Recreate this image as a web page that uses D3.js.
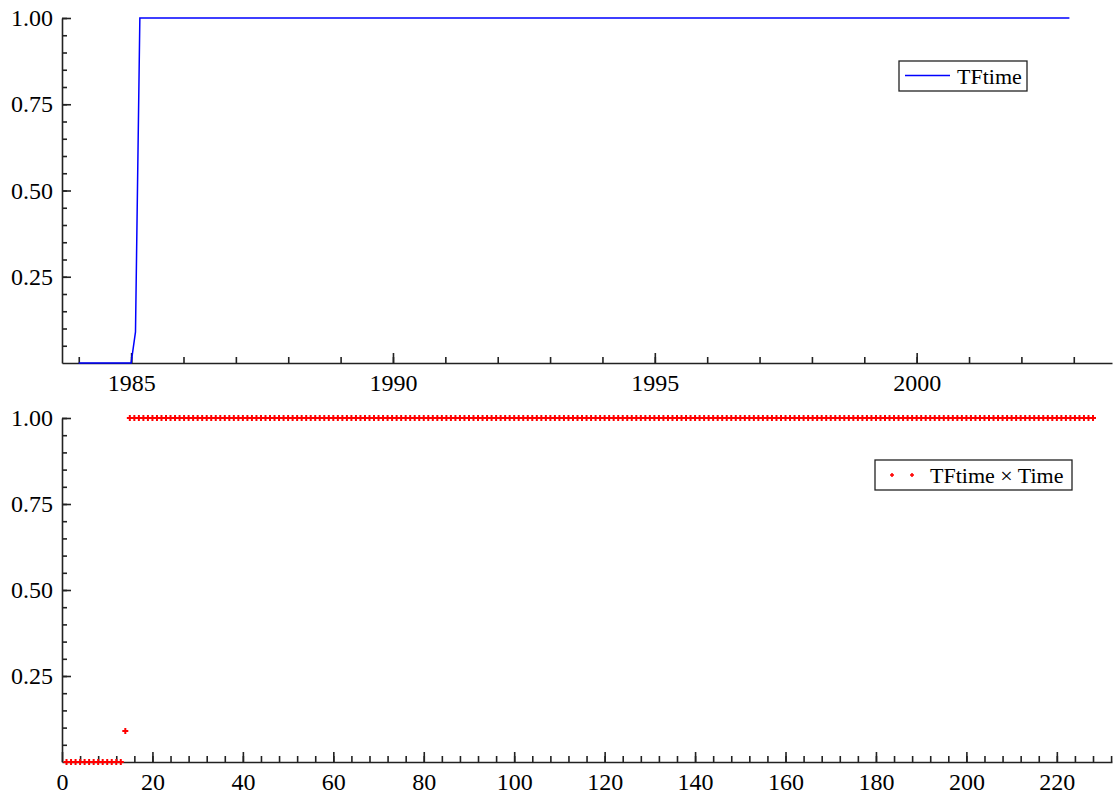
<!DOCTYPE html>
<html>
<head>
<meta charset="utf-8">
<script src="https://cdn.jsdelivr.net/npm/d3@7"></script>
<style>
  html, body { margin: 0; padding: 0; background: #fff; }
  svg { display: block; }
</style>
</head>
<body>
<div id="chart"></div>
<script>
// Monthly series, 1984M1 .. 2002M12 (one row per year)
const startYear = 1984;
const tfTime = [
  0, 0, 0, 0, 0, 0, 0, 0, 0, 0, 0, 0,          // 1984
  0, 0.09, 1, 1, 1, 1, 1, 1, 1, 1, 1, 1,       // 1985
  1, 1, 1, 1, 1, 1, 1, 1, 1, 1, 1, 1,          // 1986
  1, 1, 1, 1, 1, 1, 1, 1, 1, 1, 1, 1,          // 1987
  1, 1, 1, 1, 1, 1, 1, 1, 1, 1, 1, 1,          // 1988
  1, 1, 1, 1, 1, 1, 1, 1, 1, 1, 1, 1,          // 1989
  1, 1, 1, 1, 1, 1, 1, 1, 1, 1, 1, 1,          // 1990
  1, 1, 1, 1, 1, 1, 1, 1, 1, 1, 1, 1,          // 1991
  1, 1, 1, 1, 1, 1, 1, 1, 1, 1, 1, 1,          // 1992
  1, 1, 1, 1, 1, 1, 1, 1, 1, 1, 1, 1,          // 1993
  1, 1, 1, 1, 1, 1, 1, 1, 1, 1, 1, 1,          // 1994
  1, 1, 1, 1, 1, 1, 1, 1, 1, 1, 1, 1,          // 1995
  1, 1, 1, 1, 1, 1, 1, 1, 1, 1, 1, 1,          // 1996
  1, 1, 1, 1, 1, 1, 1, 1, 1, 1, 1, 1,          // 1997
  1, 1, 1, 1, 1, 1, 1, 1, 1, 1, 1, 1,          // 1998
  1, 1, 1, 1, 1, 1, 1, 1, 1, 1, 1, 1,          // 1999
  1, 1, 1, 1, 1, 1, 1, 1, 1, 1, 1, 1,          // 2000
  1, 1, 1, 1, 1, 1, 1, 1, 1, 1, 1, 1,          // 2001
  1, 1, 1, 1, 1, 1, 1, 1, 1, 1, 1, 1           // 2002
];

// tick values
const yMajorTicks = [0.25, 0.5, 0.75, 1.0];
const yMinorTicks = d3.range(1, 21).map(i => i / 20);
const yearMajorTicks = [1985, 1990, 1995, 2000];
const yearMinorTicks = d3.range(1984, 2004);
const timeMajorTicks = [0, 20, 40, 60, 80, 100, 120, 140, 160, 180, 200, 220];
const timeMinorTicks = d3.range(4, 233, 4);

const labels = { top: "TFtime", bottom: "TFtime \u00d7 Time" };

const FONT = '"Liberation Serif"';
const AXIS = "#222";

const width = 1114, height = 798;

const svg = d3.select("#chart").append("svg")
  .attr("width", width)
  .attr("height", height)
  .attr("viewBox", [0, 0, width, height]);

// build rows: date (decimal year) and time index
const rows = tfTime.map((v, i) => ({
  date: startYear + i / 12,
  t: i + 1,
  value: v
}));

// ----- scales -----
const xTop = d3.scaleLinear().domain([1983.68, 2003.73]).range([62, 1112]);
const yTop = d3.scaleLinear().domain([0, 1]).range([363, 18]);
const xBot = d3.scaleLinear().domain([0, 232.2]).range([62, 1112]);
const yBot = d3.scaleLinear().domain([0, 1]).range([762, 418]);

function styleAxis(g) {
  g.attr("font-family", null).attr("font-size", null);
  g.selectAll("path").attr("stroke", AXIS).attr("stroke-width", 1.6);
  g.selectAll("line").attr("stroke", AXIS).attr("stroke-width", 1.6);
  g.selectAll("text")
    .attr("fill", "#000")
    .style("font-family", FONT)
    .style("font-size", "24px");
}

function drawAxes(x, y, majorX, minorX, fmtX) {
  const x0 = x.range()[0];
  const yBase = y.range()[0];

  // minor x ticks
  svg.append("g")
    .attr("transform", `translate(0,${yBase})`)
    .call(d3.axisBottom(x).tickValues(minorX).tickSize(-6).tickSizeOuter(0).tickFormat(""))
    .call(styleAxis);

  // major x ticks with labels
  svg.append("g")
    .attr("transform", `translate(0,${yBase})`)
    .call(d3.axisBottom(x).tickValues(majorX).tickSize(-10).tickSizeOuter(0)
      .tickPadding(11).tickFormat(fmtX))
    .call(styleAxis)
    .call(g => g.select(".domain").remove());

  // minor y ticks
  svg.append("g")
    .attr("transform", `translate(${x0},0)`)
    .call(d3.axisLeft(y).tickValues(yMinorTicks).tickSize(-5).tickSizeOuter(0).tickFormat(""))
    .call(styleAxis);

  // major y ticks with labels
  svg.append("g")
    .attr("transform", `translate(${x0},0)`)
    .call(d3.axisLeft(y).tickValues(yMajorTicks).tickSize(-9).tickSizeOuter(0)
      .tickPadding(9).tickFormat(d3.format(".2f")))
    .call(styleAxis)
    .call(g => g.select(".domain").remove());
}

// ----- top panel -----
drawAxes(xTop, yTop, yearMajorTicks, yearMinorTicks, d3.format("d"));

const line = d3.line()
  .x(d => xTop(d.date))
  .y(d => yTop(d.value));

svg.append("path")
  .datum(rows)
  .attr("fill", "none")
  .attr("stroke", "#0000ff")
  .attr("stroke-width", 1.5)
  .attr("d", line);

// legend (top)
const legTop = svg.append("g").attr("transform", "translate(899,61)");
legTop.append("rect")
  .attr("width", 128).attr("height", 30)
  .attr("fill", "#fff").attr("stroke", AXIS).attr("stroke-width", 1.3);
legTop.append("line")
  .attr("x1", 6).attr("x2", 51).attr("y1", 14.5).attr("y2", 14.5)
  .attr("stroke", "#0000ff").attr("stroke-width", 1.5);
legTop.append("text")
  .attr("x", 58).attr("y", 22.5)
  .style("font-family", FONT)
  .style("font-size", "22px")
  .text(labels.top);

// ----- bottom panel -----
drawAxes(xBot, yBot, timeMajorTicks, timeMinorTicks, d3.format("d"));

const plus = "M-3,0H3M0,-3V3";

svg.append("g")
  .selectAll("path")
  .data(rows)
  .join("path")
  .attr("transform", d => `translate(${xBot(d.t)},${yBot(d.value)})`)
  .attr("d", plus)
  .attr("stroke", "#ff0000")
  .attr("stroke-width", 2)
  .attr("fill", "none");

// legend (bottom)
const legBot = svg.append("g").attr("transform", "translate(875,460)");
legBot.append("rect")
  .attr("width", 197).attr("height", 30)
  .attr("fill", "#fff").attr("stroke", AXIS).attr("stroke-width", 1.3);
legBot.selectAll("path.mk")
  .data([17, 37])
  .join("path")
  .attr("class", "mk")
  .attr("transform", d => `translate(${d},15)`)
  .attr("d", "M-2,0H2M0,-2V2")
  .attr("stroke", "#ff0000")
  .attr("stroke-width", 1.5);
legBot.append("text")
  .attr("x", 55).attr("y", 23)
  .style("font-family", FONT)
  .style("font-size", "22px")
  .text(labels.bottom);
</script>
</body>
</html>
